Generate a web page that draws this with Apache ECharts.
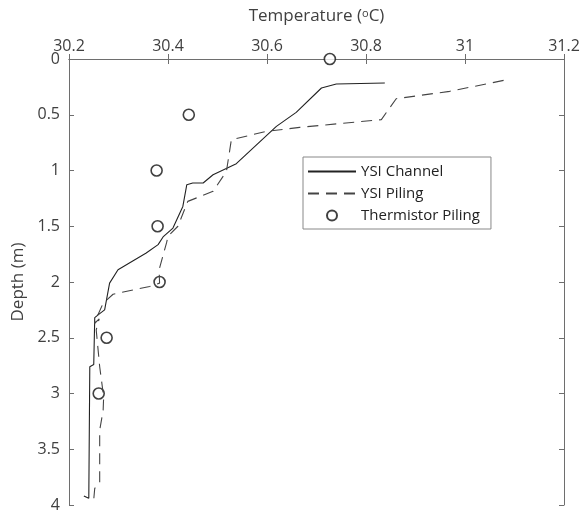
<!DOCTYPE html>
<html>
<head>
<meta charset="utf-8">
<script src="https://cdn.jsdelivr.net/npm/echarts@6/dist/echarts.min.js"></script>
<style>html,body{margin:0;padding:0;background:#fff;}#c{width:581px;height:515px;}</style>
</head>
<body>
<div id="c"></div>
<script>
var xTicks = [30.2, 30.4, 30.6, 30.8, 31, 31.2];
var yTicks = [0, 0.5, 1, 1.5, 2, 2.5, 3, 3.5, 4];

var channelTemp  = [30.838, 30.740, 30.710, 30.659, 30.619, 30.538, 30.491, 30.471, 30.450, 30.438, 30.430, 30.410, 30.390, 30.380, 30.356, 30.299, 30.282, 30.272, 30.262, 30.252, 30.250, 30.242, 30.240, 30.230];
var channelDepth = [0.215, 0.224, 0.26, 0.479, 0.604, 0.939, 1.038, 1.112, 1.112, 1.127, 1.322, 1.516, 1.596, 1.665, 1.74, 1.89, 2.01, 2.25, 2.284, 2.32, 2.74, 2.76, 3.94, 3.92];

var pilingTemp  = [31.078, 30.969, 30.861, 30.831, 30.666, 30.599, 30.528, 30.518, 30.491, 30.440, 30.420, 30.400, 30.397, 30.382, 30.383, 30.363, 30.289, 30.269, 30.259, 30.252, 30.252, 30.261, 30.255, 30.262, 30.270, 30.269, 30.262, 30.262, 30.252, 30.250];
var pilingDepth = [0.192, 0.29, 0.356, 0.544, 0.613, 0.649, 0.724, 1.008, 1.187, 1.277, 1.50, 1.59, 1.65, 1.89, 2.01, 2.04, 2.11, 2.19, 2.29, 2.32, 2.37, 2.33, 2.43, 2.76, 3.03, 3.15, 3.33, 3.80, 3.85, 3.95];

var thermTemp  = [30.727, 30.442, 30.377, 30.379, 30.383, 30.276, 30.260];
var thermDepth = [0, 0.5, 1, 1.5, 2, 2.5, 3];

function zip(a, b) { return a.map(function (v, i) { return [v, b[i]]; }); }

var FONT = '"Open Sans", "DejaVu Sans", sans-serif';
var TXT = '#404040';
var AX = '#6e6e6e';

var chart = echarts.init(document.getElementById('c'), null, {renderer: 'canvas'});
var xBase = {
  type: 'value', min: xTicks[0], max: xTicks[xTicks.length - 1], interval: 0.2,
  splitLine: {show: false},
  axisLine: {show: true, lineStyle: {color: AX, width: 1}},
  axisTick: {show: true, inside: true, length: 5, lineStyle: {color: AX}}
};
var yBase = {
  type: 'value', min: yTicks[0], max: yTicks[yTicks.length - 1], interval: 0.5, inverse: true,
  splitLine: {show: false},
  axisLine: {show: true, lineStyle: {color: AX, width: 1}},
  axisTick: {show: true, inside: true, length: 5, lineStyle: {color: AX}}
};
chart.setOption({
  animation: false,
  backgroundColor: '#fff',
  textStyle: {fontFamily: FONT},
  grid: {left: 69, right: 17, top: 59, bottom: 10, containLabel: false, outerBoundsMode: 'none'},
  xAxis: [
    Object.assign({}, xBase, {
      position: 'top',
      name: 'Temperature ({s|o}C)',
      nameLocation: 'middle', nameGap: 34,
      nameTextStyle: {color: TXT, fontSize: 17, fontFamily: FONT,
        rich: {s: {fontSize: 11, verticalAlign: 'top', color: TXT, fontFamily: FONT, padding: [0, 0, 6, 0]}}},
      axisLabel: {color: TXT, fontSize: 16, fontFamily: FONT, margin: 5}
    }),
    Object.assign({}, xBase, {position: 'bottom', axisLabel: {show: false}})
  ],
  yAxis: [
    Object.assign({}, yBase, {
      position: 'left',
      name: 'Depth (m)', nameLocation: 'middle', nameGap: 34, nameRotate: 90,
      nameTextStyle: {color: TXT, fontSize: 17, fontFamily: FONT},
      axisLabel: {color: TXT, fontSize: 16, fontFamily: FONT, margin: 9}
    }),
    Object.assign({}, yBase, {position: 'right', axisLabel: {show: false}})
  ],
  legend: {
    left: 303, top: 157, orient: 'vertical',
    padding: [7, 11, 6, 4],
    itemGap: 7, itemWidth: 48, itemHeight: 10,
    borderColor: '#888', borderWidth: 1, backgroundColor: '#fff',
    textStyle: {color: '#222', fontSize: 15, fontFamily: FONT},
    data: [
      {name: 'YSI Channel', itemStyle: {opacity: 0}},
      {name: 'YSI Piling', itemStyle: {opacity: 0}},
      {name: 'Thermistor Piling', icon: 'circle'}
    ]
  },
  series: [
    {
      name: 'YSI Channel', type: 'line', data: zip(channelTemp, channelDepth),
      symbol: 'none', showSymbol: false,
      lineStyle: {color: '#222', width: 1.1},
      itemStyle: {color: '#222'}
    },
    {
      name: 'YSI Piling', type: 'line', data: zip(pilingTemp, pilingDepth),
      symbol: 'none', showSymbol: false,
      lineStyle: {color: '#444', width: 1.1, type: [11, 7]},
      itemStyle: {color: '#444'}
    },
    {
      name: 'Thermistor Piling', type: 'scatter', data: zip(thermTemp, thermDepth),
      symbol: 'circle', symbolSize: 11,
      clip: false,
      itemStyle: {color: '#fff', borderColor: '#111', borderWidth: 1.6}
    }
  ]
});
</script>
</body>
</html>
